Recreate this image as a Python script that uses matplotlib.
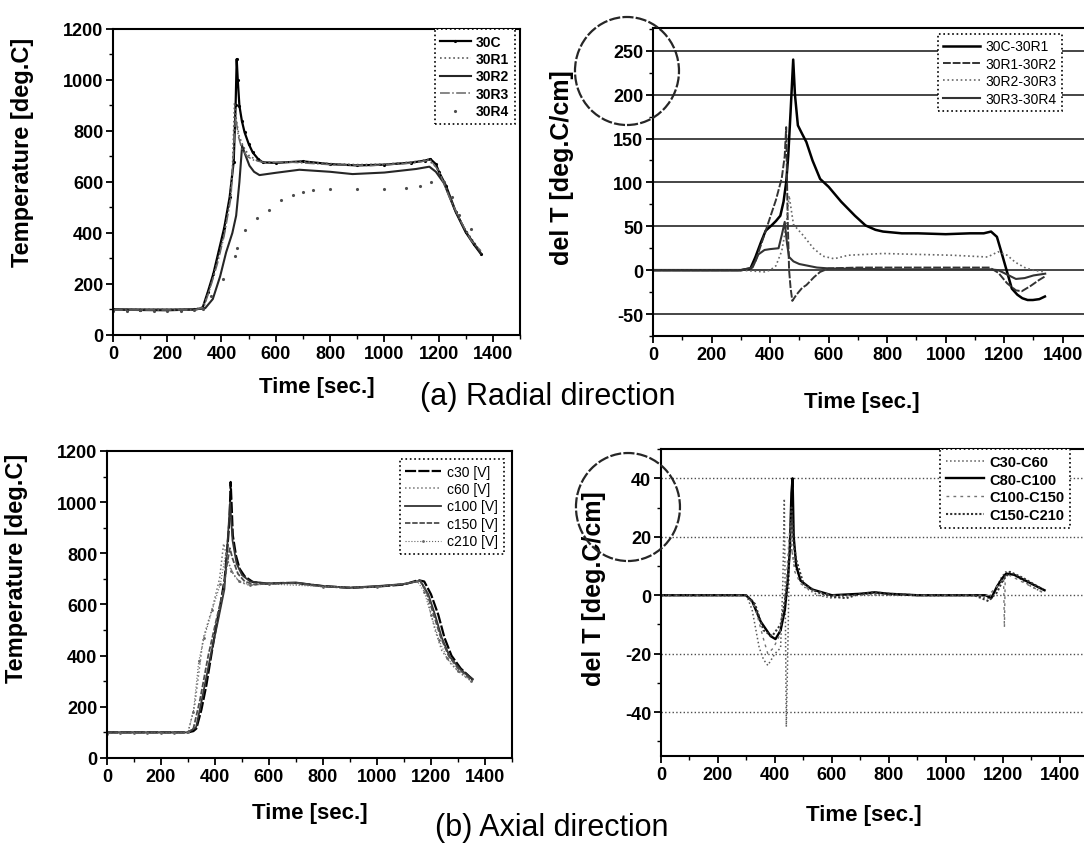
import matplotlib
matplotlib.use('Agg')  # Headless mode
import matplotlib.pyplot as plt
from matplotlib.patches import Ellipse
from matplotlib.ticker import MultipleLocator

plt.rcParams['font.family'] = ['Liberation Sans', 'DejaVu Sans']
plt.rcParams['axes.unicode_minus'] = False

# ---- (a) radial: temperatures ----
t_30c = [0, 100, 200, 300, 330, 350, 370, 390, 410, 430, 445, 452, 456, 460, 466, 475, 485, 500, 515, 535,
         552, 600, 700, 800, 900, 1000, 1100, 1150, 1170, 1190, 1202, 1227, 1264, 1300, 1330, 1356]
v_30c = [100, 98, 97, 100, 105, 170, 240, 330, 420, 540, 680, 900, 1082, 1000, 899, 840, 795, 750, 716, 690,
         677, 675, 681, 670, 665, 668, 676, 684, 690, 670, 638, 586, 481, 403, 355, 318]
t_30r1 = [0, 300, 330, 350, 370, 390, 410, 430, 440, 448, 455, 465, 480, 500, 530, 560, 600, 700, 800, 900,
          1000, 1100, 1160, 1190, 1220, 1260, 1300, 1356]
v_30r1 = [100, 100, 110, 160, 230, 310, 400, 520, 640, 912, 840, 780, 740, 705, 685, 678, 676, 680, 672, 668,
          670, 678, 688, 660, 600, 490, 410, 325]
t_30r2 = [0, 300, 340, 368, 395, 417, 440, 454, 466, 476, 490, 503, 520, 540, 600, 687, 800, 883, 1000, 1117,
          1166, 1190, 1220, 1260, 1300, 1356]
v_30r2 = [100, 100, 105, 141, 230, 324, 400, 468, 600, 742, 700, 664, 640, 627, 636, 648, 640, 631, 637, 651,
          660, 640, 595, 490, 405, 320]
t_30r3 = [0, 300, 335, 360, 385, 410, 435, 452, 462, 475, 495, 520, 560, 650, 800, 950, 1100, 1170, 1200,
          1240, 1280, 1320, 1356]
v_30r3 = [98, 98, 108, 190, 280, 390, 540, 860, 780, 730, 700, 685, 676, 678, 668, 664, 674, 686, 645,
          540, 450, 370, 330]
t_30r4 = [0, 50, 100, 150, 200, 250, 300, 330, 362, 407, 448, 458, 487, 530, 574, 620, 663, 700, 736, 800,
          900, 1000, 1080, 1130, 1172, 1221, 1250, 1276, 1319]
v_30r4 = [95, 95, 96, 95, 95, 94, 97, 100, 154, 220, 311, 340, 413, 459, 492, 530, 549, 562, 570, 571,
          572, 573, 575, 585, 600, 600, 540, 470, 416]

# ---- (a) radial: gradients ----
t_c_r1 = [0, 100, 200, 300, 333, 350, 369, 385, 405, 420, 435, 446, 455, 462, 470, 479, 485, 495, 510, 524,
          545, 571, 600, 643, 690, 726, 760, 786, 850, 905, 1000, 1083, 1130, 1155, 1175, 1190, 1208, 1226,
          1245, 1262, 1280, 1298, 1320, 1339]
d_c_r1 = [0, 0, 0, 0, 2, 15, 32, 45, 51, 56, 62, 78, 100, 130, 180, 240, 200, 165, 155, 146,
          125, 104, 95, 78, 62, 51, 46, 44, 42, 42, 41, 42, 42, 44, 38, 21, 0, -21,
          -28, -32, -34, -34, -33, -30]
t_r1_r2 = [0, 200, 300, 333, 350, 370, 400, 420, 440, 450, 455, 460, 465, 470, 476, 490, 510, 524, 550, 571,
           600, 700, 800, 1000, 1150, 1180, 1210, 1240, 1260, 1290, 1320, 1340]
d_r1_r2 = [0, 0, 0, 1, 10, 30, 60, 80, 105, 130, 163, 60, 0, -20, -35, -28, -20, -17, -8, -2,
           2, 3, 3, 3, 3, -3, -15, -23, -24, -18, -11, -7]
t_r2_r3 = [0, 300, 380, 400, 420, 440, 455, 465, 480, 512, 548, 580, 619, 667, 786, 900, 1024, 1143, 1179,
           1210, 1238, 1270, 1298, 1339]
d_r2_r3 = [0, 0, -2, 0, 5, 22, 50, 85, 52, 40, 25, 16, 13, 17, 19, 18, 17, 15, 21,
           17, 9, 3, 0, -2]
t_r3_r4 = [0, 300, 340, 360, 381, 400, 429, 440, 450, 458, 465, 480, 500, 530, 560, 600, 800, 1000, 1150,
           1180, 1210, 1240, 1270, 1300, 1340]
d_r3_r4 = [0, 0, 3, 18, 23, 24, 25, 40, 55, 30, 15, 10, 7, 5, 3, 2, 1, 1, 1,
           0, -5, -10, -9, -6, -4]

# ---- (b) axial: temperatures ----
t_c30 = [0, 100, 200, 300, 320, 331, 350, 368, 386, 405, 420, 436, 448, 454, 458, 462, 466, 478, 491, 510,
         540, 589, 650, 700, 800, 900, 1000, 1100, 1153, 1175, 1200, 1227, 1250, 1276, 1310, 1356]
v_c30 = [100, 100, 100, 100, 105, 115, 190, 284, 400, 519, 600, 701, 850, 935, 1079, 980, 870, 790, 740, 710,
         688, 681, 684, 684, 672, 665, 670, 678, 695, 690, 640, 560, 470, 400, 350, 305]
t_c60 = [0, 300, 325, 356, 393, 417, 432, 445, 454, 470, 491, 528, 560, 650, 800, 900, 1000, 1100, 1160,
         1180, 1196, 1215, 1240, 1276, 1310, 1350]
v_c60 = [100, 100, 206, 466, 597, 701, 838, 780, 753, 715, 688, 675, 678, 686, 670, 666, 670, 680, 695,
         660, 580, 500, 420, 365, 330, 300]
t_c100 = [0, 300, 330, 350, 380, 410, 435, 450, 456, 465, 480, 500, 530, 600, 700, 800, 900, 1000, 1100,
          1160, 1190, 1215, 1240, 1270, 1310, 1355]
v_c100 = [100, 100, 120, 220, 380, 530, 660, 900, 1000, 850, 760, 715, 690, 682, 686, 672, 666, 672, 680,
          693, 640, 560, 470, 395, 345, 308]
t_c150 = [0, 300, 320, 345, 375, 405, 430, 445, 455, 465, 485, 510, 545, 600, 700, 800, 900, 1000, 1100,
          1160, 1185, 1210, 1235, 1265, 1300, 1355]
v_c150 = [100, 100, 115, 230, 400, 540, 650, 760, 820, 780, 720, 690, 678, 682, 684, 670, 665, 670, 680,
          692, 645, 560, 475, 400, 350, 300]
t_c210 = [0, 50, 100, 150, 200, 250, 300, 320, 340, 360, 390, 420, 440, 460, 490, 530, 600, 800, 1000,
          1150, 1175, 1200, 1230, 1260, 1300, 1350]
v_c210 = [95, 98, 98, 98, 98, 98, 100, 180, 380, 470, 580, 680, 800, 730, 690, 676, 680, 670, 668,
          690, 650, 560, 460, 390, 340, 300]

# ---- (b) axial: gradients ----
t_a1 = [0, 100, 200, 300, 320, 345, 360, 375, 400, 420, 428, 433, 437, 440, 445, 452, 460, 470, 500, 550,
        600, 700, 800, 900, 1000, 1100, 1150, 1175, 1195, 1210, 1240, 1270, 1300, 1340]
d_a1 = [0, 0, 0, 0, -5, -18, -22, -24, -20, -18, 5, 33, -10, -45, -20, 20, 15, 10, 3, 0,
        -1, 0.5, 0, 0, 0, 0, -1, 2, 6, 8, 7, 5, 3, 1]
t_a2 = [0, 100, 200, 298, 320, 350, 385, 402, 420, 435, 445, 452, 458, 462, 466, 475, 490, 530, 600, 700,
        750, 800, 900, 1000, 1100, 1140, 1160, 1180, 1200, 1212, 1240, 1280, 1320, 1347]
d_a2 = [0, 0, 0, 0, -2, -9, -14, -15, -12, -5, 5, 15, 35, 40, 20, 10, 5, 2, 0, 0.5,
        1, 0.5, 0, 0, 0, 0, -1, 3, 6, 7.4, 7, 5, 3, 1.7]
t_a3 = [0, 300, 330, 360, 375, 395, 415, 430, 440, 450, 455, 460, 470, 490, 520, 600, 800, 1000, 1150,
        1190, 1203, 1206, 1209, 1220, 1260, 1300, 1340]
d_a3 = [0, 0, -4, -15, -20, -18, -14, -5, 5, 20, 25, 15, 8, 4, 2, 0, 0, 0, 0,
        4, 6, -11, 7, 7, 5, 3, 1]
t_a4 = [0, 300, 330, 360, 390, 420, 435, 445, 452, 458, 465, 475, 500, 550, 600, 650, 700, 750, 800, 900,
        1000, 1100, 1150, 1180, 1200, 1225, 1270, 1340]
d_a4 = [0, 0, -3, -12, -14, -10, -2, 5, 15, 30, 18, 12, 4, 1, -0.5, -1, 0.5, 1, 0.5, 0,
        0, 0, -2, 1, 5, 8, 6, 2]


def style_axes(ax, ymajor, yminor):
    ax.set_xlim(0, 1500)
    ax.xaxis.set_major_locator(MultipleLocator(200))
    ax.xaxis.set_minor_locator(MultipleLocator(100))
    ax.yaxis.set_major_locator(MultipleLocator(ymajor))
    ax.yaxis.set_minor_locator(MultipleLocator(yminor))
    ax.tick_params(which='major', direction='out', length=5, width=1.3, labelsize=13, pad=2)
    ax.tick_params(which='minor', direction='out', length=3, width=1.0)
    for lab in ax.get_xticklabels() + ax.get_yticklabels():
        lab.set_fontweight('bold')
    for sp in ax.spines.values():
        sp.set_linewidth(1.5)


def dotted_legend(ax, anchor, size, weight='normal', hl=2.6):
    leg = ax.legend(loc='upper left', bbox_to_anchor=anchor, borderaxespad=0, fancybox=False,
                    edgecolor='black', framealpha=1, handlelength=hl, handletextpad=0.4,
                    labelspacing=0.25, prop=dict(size=size, weight=weight))
    leg.get_frame().set_linewidth(1.2)
    leg.get_frame().set_linestyle(':')


fig = plt.figure(figsize=(10.84, 8.45), dpi=100)

# top-left: radial temperatures
ax1 = fig.add_axes([0.1042, 0.6024, 0.3755, 0.3621])
ax1.plot(t_30c, v_30c, color='black', lw=1.6, marker='.', ms=2.5, label='30C')
ax1.plot(t_30r1, v_30r1, color='0.35', lw=1.2, ls=':', label='30R1')
ax1.plot(t_30r2, v_30r2, color='0.15', lw=1.5, label='30R2')
ax1.plot(t_30r3, v_30r3, color='0.4', lw=1.1, ls='-.', label='30R3')
ax1.plot(t_30r4, v_30r4, color='0.3', lw=0, marker='.', ms=2.5, label='30R4')
ax1.set_ylim(0, 1200)
style_axes(ax1, 200, 100)
ax1.set_xlabel('Time [sec.]', fontsize=16, fontweight='bold')
ax1.set_ylabel('Temperature [deg.C]', fontsize=17, fontweight='bold')
ax1.xaxis.set_label_coords(0.50, -0.135)
ax1.yaxis.set_label_coords(-0.195, 0.60)
dotted_legend(ax1, (0.79, 1.0), 10, 'bold', 2.2)

# top-right: radial gradients
ax2 = fig.add_axes([0.6024, 0.6012, 0.405, 0.3645])
ax2.plot(t_c_r1, d_c_r1, color='black', lw=1.8, label='30C-30R1')
ax2.plot(t_r1_r2, d_r1_r2, color='0.2', lw=1.4, ls=(0, (4, 1)), label='30R1-30R2')
ax2.plot(t_r2_r3, d_r2_r3, color='0.4', lw=1.2, ls=':', label='30R2-30R3')
ax2.plot(t_r3_r4, d_r3_r4, color='0.2', lw=1.5, label='30R3-30R4')
ax2.set_ylim(-75, 276)
style_axes(ax2, 50, 25)
ax2.yaxis.grid(True, color='0.15', lw=1.2)
ax2.set_axisbelow(True)
ax2.set_xlabel('Time [sec.]', fontsize=16, fontweight='bold')
ax2.set_ylabel('del T [deg.C/cm]', fontsize=18, fontweight='bold')
ax2.xaxis.set_label_coords(0.476, -0.18)
ax2.yaxis.set_label_coords(-0.18, 0.55)
dotted_legend(ax2, (0.649, 0.981), 10)

# bottom-left: axial temperatures
ax3 = fig.add_axes([0.0987, 0.1018, 0.3736, 0.3633])
ax3.plot(t_c30, v_c30, color='black', lw=1.6, ls=(0, (5, 1)), label='c30 [V]')
ax3.plot(t_c60, v_c60, color='0.45', lw=1.1, ls=':', label='c60 [V]')
ax3.plot(t_c100, v_c100, color='0.2', lw=1.3, label='c100 [V]')
ax3.plot(t_c150, v_c150, color='0.3', lw=1.3, ls=(0, (3, 1)), label='c150 [V]')
ax3.plot(t_c210, v_c210, color='0.4', lw=0.8, ls=':', marker='.', ms=2, label='c210 [V]')
ax3.set_ylim(0, 1200)
style_axes(ax3, 200, 100)
ax3.set_xlabel('Time [sec.]', fontsize=16, fontweight='bold')
ax3.set_ylabel('Temperature [deg.C]', fontsize=17, fontweight='bold')
ax3.xaxis.set_label_coords(0.50, -0.143)
ax3.yaxis.set_label_coords(-0.195, 0.62)
dotted_legend(ax3, (0.723, 0.974), 10)

# bottom-right: axial gradients
ax4 = fig.add_axes([0.6098, 0.1041, 0.394, 0.3633])
ax4.plot(t_a1, d_a1, color='0.35', lw=1.1, ls=':', label='C30-C60')
ax4.plot(t_a2, d_a2, color='black', lw=1.7, label='C80-C100')
ax4.plot(t_a3, d_a3, color='0.45', lw=1.0, ls=(0, (2, 3)), label='C100-C150')
ax4.plot(t_a4, d_a4, color='0.2', lw=1.5, ls=(0, (1, 1)), label='C150-C210')
ax4.set_ylim(-55, 50)
style_axes(ax4, 20, 10)
ax4.yaxis.grid(True, color='0.3', lw=1.0, ls=':')
ax4.set_axisbelow(True)
ax4.set_xlabel('Time [sec.]', fontsize=16, fontweight='bold')
ax4.set_ylabel('del T [deg.C/cm]', fontsize=18, fontweight='bold')
ax4.xaxis.set_label_coords(0.475, -0.156)
ax4.yaxis.set_label_coords(-0.13, 0.55)
dotted_legend(ax4, (0.653, 1.0), 10.5, 'bold')

# hand-drawn circles around the gradient axis labels
for cx, cy in [(0.5784, 0.9148), (0.5793, 0.3988)]:
    fig.patches.append(Ellipse((cx, cy), 2 * 52 / 1084, 2 * 54 / 845, transform=fig.transFigure,
                               fill=False, ec='0.15', lw=1.6, ls=(0, (5, 1))))

fig.text(0.505, 0.53, '(a) Radial direction', fontsize=22, ha='center', va='center')
fig.text(0.509, 0.02, '(b) Axial direction', fontsize=22, ha='center', va='center')

fig.savefig('out.png', dpi=100)
